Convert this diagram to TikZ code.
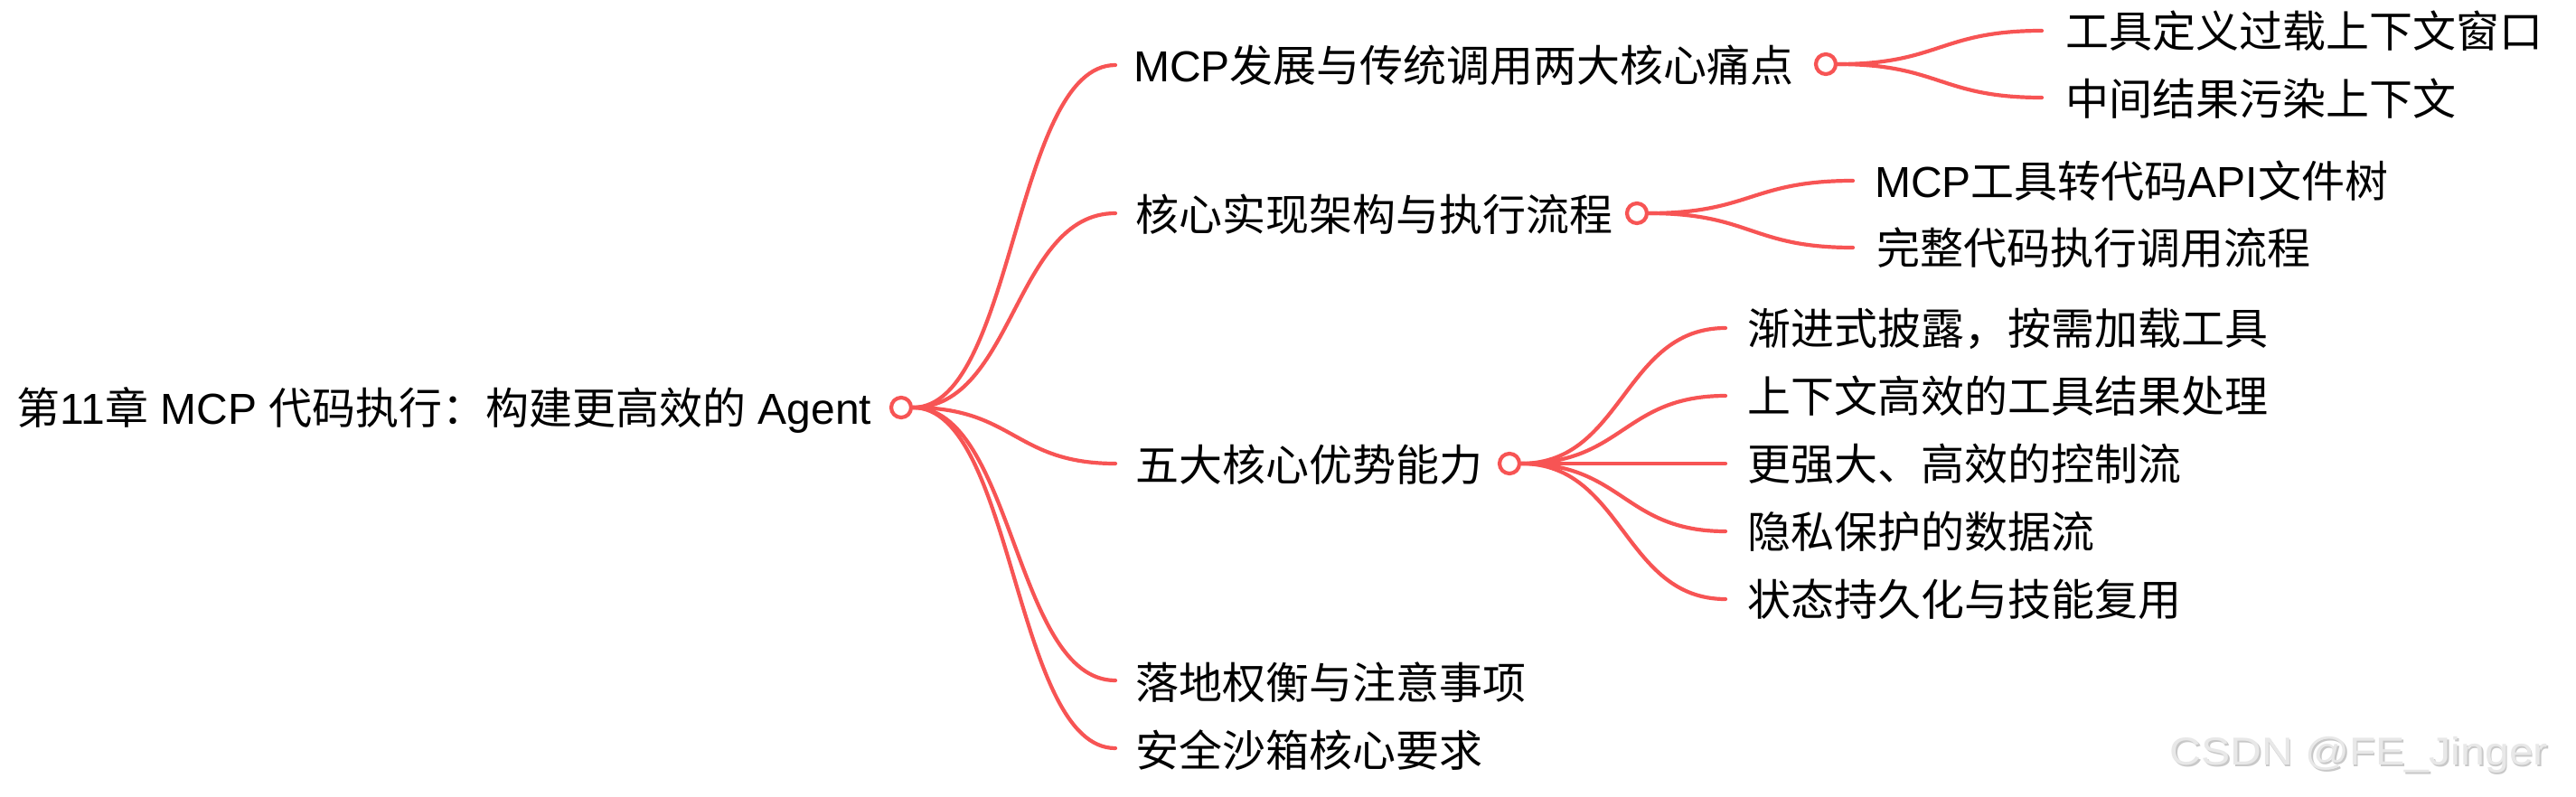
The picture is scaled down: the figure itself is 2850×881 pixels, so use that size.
\documentclass[tikz,border=0pt]{standalone}
\usepackage{fontspec}
\setmainfont{Noto Sans CJK SC}
\newfontfamily\lat{Liberation Sans}
\usetikzlibrary{calc}
\definecolor{linkred}{RGB}{247,84,84}
\definecolor{wmfill}{RGB}{232,232,232}
\definecolor{wmedge}{RGB}{200,200,200}
\begin{document}
\begin{tikzpicture}[x=1pt,y=-1pt,
  lbl/.style={anchor=base west, inner sep=0pt, font=\fontsize{48}{58}\selectfont, text=black},
  knob/.style={circle, draw=linkred, line width=4.2pt, fill=white, minimum size=22pt, inner sep=0pt},
  link/.style={draw=linkred, line width=4.2pt, line cap=round,
    to path={.. controls ($(\tikztostart)!0.5!(\tikztotarget |- \tikztostart)$) and ($(\tikztotarget)!0.5!(\tikztostart |- \tikztotarget)$) .. (\tikztotarget)}},
  wm/.style={anchor=base west, inner sep=0pt, font=\lat\fontsize{43}{50}\selectfont, xscale=1.12}
]
\fill[white] (0,0) rectangle (2850,881);
\useasboundingbox (0,0) rectangle (2850,881);

% root
\node[lbl] (rt) at (18,469) {第{\lat 11}章{\lat\ MCP\ }代码执行：构建更高效的{\lat\ Agent}};
\node[knob] (r) at (997,451) {};

% level 1 ends
\coordinate (e1) at (1234,72);
\coordinate (e2) at (1234,236);
\coordinate (e3) at (1234,513);
\coordinate (e4) at (1234,753);
\coordinate (e5) at (1234,828);

\draw[link] (r.east) to (e1);
\draw[link] (r.east) to (e2);
\draw[link] (r.east) to (e3);
\draw[link] (r.east) to (e4);
\draw[link] (r.east) to (e5);

\node[lbl] (t1) at (1254,90) {{\lat MCP}发展与传统调用两大核心痛点};
\node[lbl] (t2) at (1256,255) {核心实现架构与执行流程};
\node[lbl] (t3) at (1256,532) {五大核心优势能力};
\node[lbl] (t4) at (1256,773) {落地权衡与注意事项};
\node[lbl] (t5) at (1256,848) {安全沙箱核心要求};

\node[knob] (c1) at (2020,71) {};
\node[knob] (c2) at (1811,236) {};
\node[knob] (c3) at (1670,513) {};

% level 2 ends
\coordinate (f11) at (2259,34);
\coordinate (f12) at (2259,108);
\coordinate (f21) at (2050,200);
\coordinate (f22) at (2050,274);
\coordinate (f31) at (1909,363);
\coordinate (f32) at (1909,438);
\coordinate (f33) at (1909,513);
\coordinate (f34) at (1909,588);
\coordinate (f35) at (1909,663);

\draw[link] (c1.east) to (f11);
\draw[link] (c1.east) to (f12);
\draw[link] (c2.east) to (f21);
\draw[link] (c2.east) to (f22);
\draw[link] (c3.east) to (f31);
\draw[link] (c3.east) to (f32);
\draw[link] (c3.east) to (f33);
\draw[link] (c3.east) to (f34);
\draw[link] (c3.east) to (f35);

\node[lbl] (t11) at (2285,52) {工具定义过载上下文窗口};
\node[lbl] (t12) at (2285,127) {中间结果污染上下文};
\node[lbl] (t21) at (2074,218) {{\lat MCP}工具转代码{\lat API}文件树};
\node[lbl] (t22) at (2076,292) {完整代码执行调用流程};
\node[lbl] (t31) at (1933,381) {渐进式披露，按需加载工具};
\node[lbl] (t32) at (1933,456) {上下文高效的工具结果处理};
\node[lbl] (t33) at (1933,531) {更强大、高效的控制流};
\node[lbl] (t34) at (1933,606) {隐私保护的数据流};
\node[lbl] (t35) at (1933,681) {状态持久化与技能复用};

% watermark
\node[wm, text=wmedge] (wms) at (2402,848) {CSDN @FE\_Jinger};
\node[wm, text=wmfill] (wmt) at (2400.5,846.5) {CSDN @FE\_Jinger};
\end{tikzpicture}
\end{document}
